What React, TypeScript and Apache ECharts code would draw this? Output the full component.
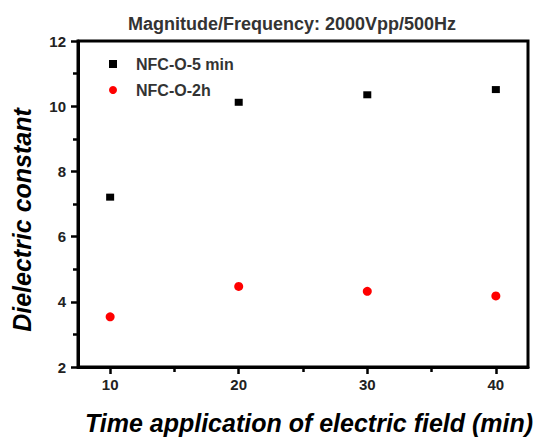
import React, { useEffect, useRef } from "react";
import * as echarts from "echarts";

// Data
const times = [10, 20, 30, 40];
const nfc5min = [7.21, 10.12, 10.35, 10.51];
const nfc2h = [3.54, 4.47, 4.32, 4.18];
const seriesNames = ["NFC-O-5 min", "NFC-O-2h"];
const xMajorTicks = [10, 20, 30, 40];
const xMinorTicks = [15, 25, 35];
const titleText = "Magnitude/Frequency: 2000Vpp/500Hz";
const xAxisTitle = "Time application of electric field (min)";
const yAxisTitle = "Dielectric constant";

const FONT = '"Liberation Sans", Arial, sans-serif';

export default function App() {
  const ref = useRef<HTMLDivElement>(null);

  useEffect(() => {
    if (!ref.current) return;
    const chart = echarts.init(ref.current, undefined, { renderer: "svg" });
    const axisLineStyle = { color: "#000", width: 3 };
    const tickStyle = { color: "#000", width: 2.5 };
    chart.setOption({
      animation: false,
      backgroundColor: "#fff",
      title: {
        text: titleText,
        left: 287,
        top: 10,
        textAlign: "center",
        textStyle: { fontFamily: FONT, fontSize: 18, fontWeight: "bold", color: "#333" },
      },
      legend: {
        orient: "vertical",
        left: 104,
        top: 51,
        itemWidth: 8,
        itemHeight: 8,
        itemGap: 10,
        data: [
          { name: seriesNames[0], icon: "rect" },
          { name: seriesNames[1], icon: "circle" },
        ],
        textStyle: {
          fontFamily: FONT,
          fontSize: 16,
          fontWeight: "bold",
          color: "#333",
          padding: [0, 0, 0, 14],
        },
      },
      grid: {
        left: 78,
        right: 11,
        top: 41,
        bottom: 67,
        show: true,
        borderColor: "#000",
        borderWidth: 3,
      },
      xAxis: [
        {
          type: "value",
          min: 7.5,
          max: 42.5,
          position: "bottom",
          name: xAxisTitle,
          nameLocation: "middle",
          nameGap: 43,
          nameTextStyle: {
            fontFamily: FONT,
            fontSize: 25,
            fontWeight: "bold",
            fontStyle: "italic",
            color: "#000",
            padding: [0, 0, 0, 12],
          },
          axisLine: { show: true, lineStyle: axisLineStyle },
          axisTick: { show: true, customValues: xMajorTicks, length: 7, lineStyle: tickStyle },
          axisLabel: {
            customValues: xMajorTicks,
            margin: 10,
            fontFamily: FONT,
            fontSize: 15,
            fontWeight: "bold",
            color: "#222",
          },
          splitLine: { show: false },
        },
        {
          type: "value",
          min: 7.5,
          max: 42.5,
          position: "bottom",
          axisLine: { show: false },
          axisTick: { show: true, customValues: xMinorTicks, length: 5, lineStyle: tickStyle },
          axisLabel: { show: false },
          splitLine: { show: false },
        },
      ],
      yAxis: {
        type: "value",
        min: 2,
        max: 12,
        interval: 2,
        axisLine: { show: true, lineStyle: axisLineStyle },
        axisTick: { show: true, length: 7, lineStyle: tickStyle },
        minorTick: { show: true, splitNumber: 2, length: 5, lineStyle: tickStyle },
        axisLabel: {
          margin: 12,
          fontFamily: FONT,
          fontSize: 15,
          fontWeight: "bold",
          color: "#222",
        },
        splitLine: { show: false },
        minorSplitLine: { show: false },
      },
      graphic: [
        {
          type: "text",
          x: 22,
          y: 220,
          rotation: Math.PI / 2,
          style: {
            text: yAxisTitle,
            fontFamily: FONT,
            fontSize: 25,
            fontWeight: "bold",
            fontStyle: "italic",
            fill: "#000",
            align: "center",
            verticalAlign: "middle",
          },
        },
      ],
      series: [
        {
          name: seriesNames[0],
          type: "scatter",
          xAxisIndex: 0,
          symbol: "rect",
          symbolSize: [8, 7],
          itemStyle: { color: "#000", opacity: 1 },
          data: times.map((t, i) => [t, nfc5min[i]]),
        },
        {
          name: seriesNames[1],
          type: "scatter",
          xAxisIndex: 0,
          symbol: "circle",
          symbolSize: 9,
          itemStyle: { color: "#ff0000", opacity: 1 },
          data: times.map((t, i) => [t, nfc2h[i]]),
        },
      ],
    });
    return () => chart.dispose();
  }, []);

  return (
    <div
      ref={ref}
      style={{ width: 539, height: 440, position: "absolute", left: 0, top: 0 }}
    />
  );
}
